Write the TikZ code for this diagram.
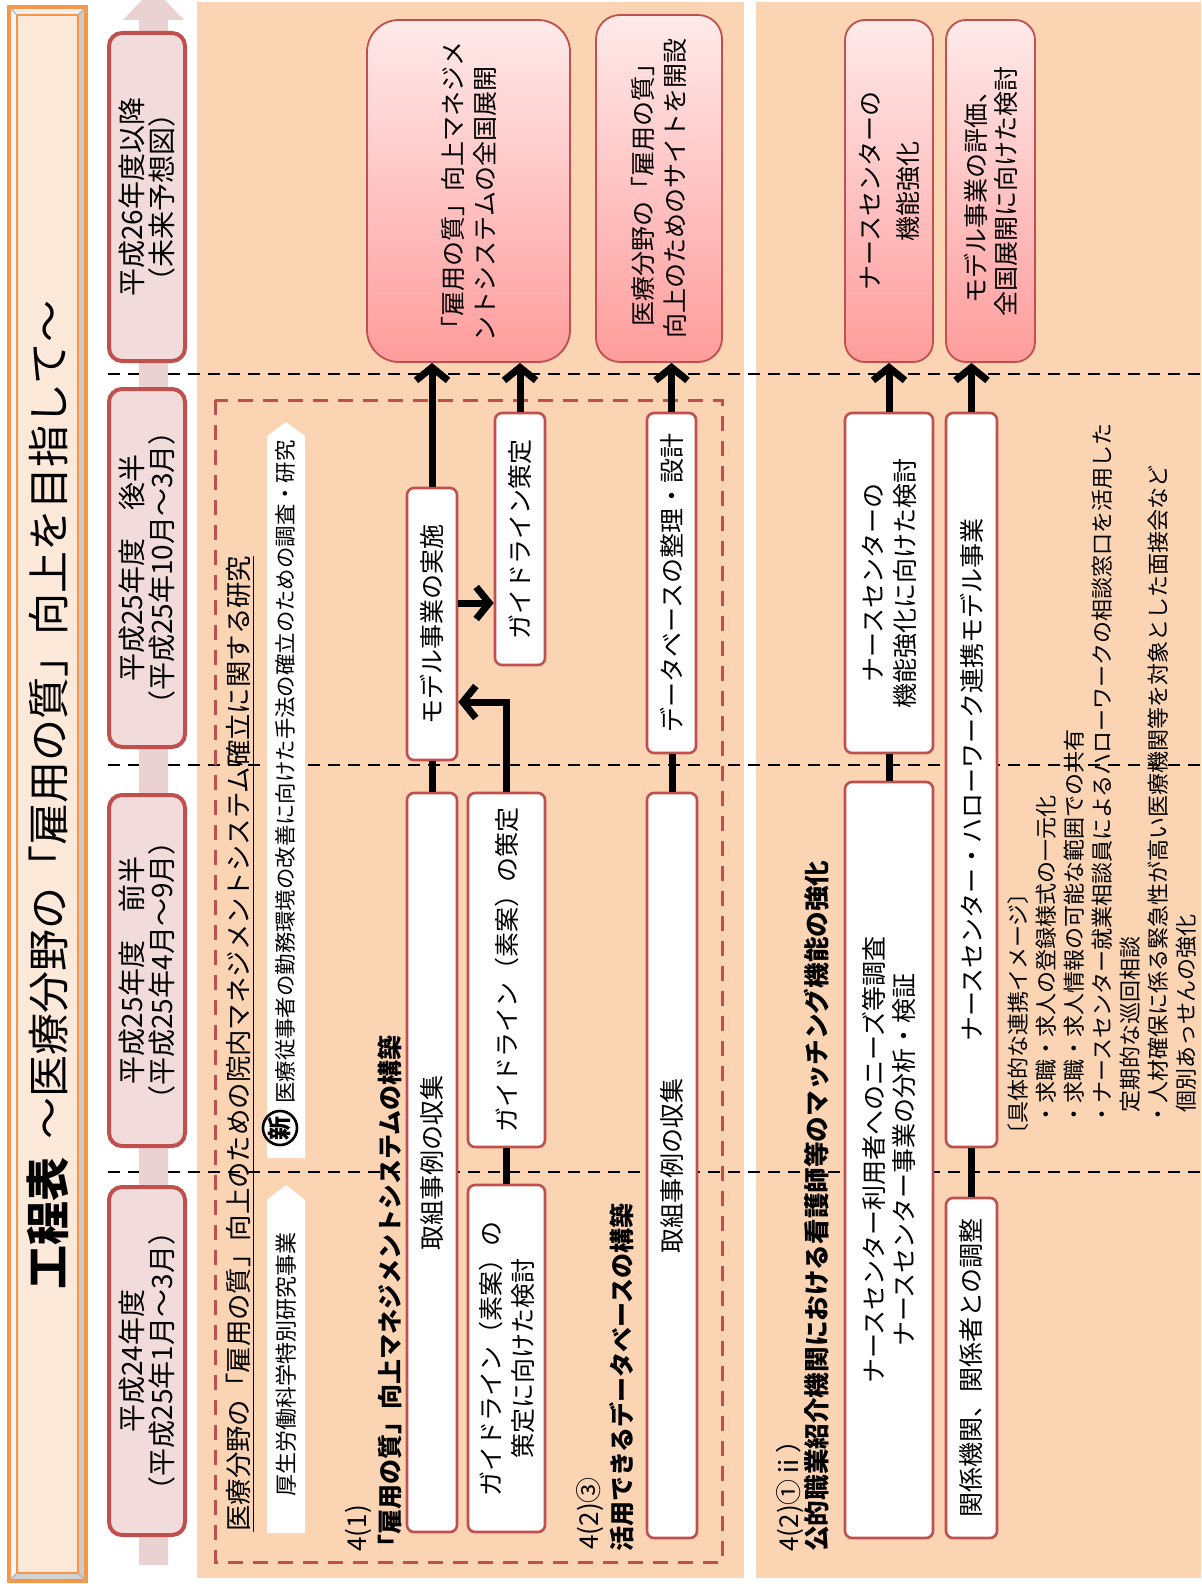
\documentclass[tikz,border=0pt]{standalone}
\usepackage{fontspec}
\setmainfont{Noto Sans CJK JP}
\usetikzlibrary{arrows.meta}
\definecolor{panel}{HTML}{FBD4B4}
\definecolor{dred}{HTML}{C0504D}
\definecolor{hdrfill}{HTML}{F2DCDB}
\definecolor{hdrarrow}{HTML}{EBD2D2}
\definecolor{orng}{HTML}{F79646}
\definecolor{titlefill}{HTML}{FDE9D9}
\definecolor{pinklight}{HTML}{FFEAEA}
\definecolor{pinkdark}{HTML}{FF9C9C}
\newcommand{\fsz}[2]{\fontsize{#1pt}{#2pt}\selectfont}
\tikzset{
  vb/.style 2 args={rotate=90, minimum width={(#1)*0.5pt}, minimum height={(#2)*0.5pt}, inner sep=0pt, align=center},
  wbox/.style={draw=dred, line width=1.3pt, fill=white, rounded corners=3.5pt, font=\fsz{12.5}{16}},
  pbox/.style={draw=dred, line width=0.9pt, top color=pinklight, bottom color=pinkdark, font=\fsz{12.5}{16}},
  hdr/.style={draw=dred, line width=2pt, fill=hdrfill, rounded corners=6.5pt, font=\fsz{14}{15}},
  rtxt/.style={rotate=90, inner sep=0pt},
  arr/.style={line width=3.5pt, -{Straight Barb[length=6.5pt,width=16pt,line width=3.5pt]}},
  conn/.style={line width=3.5pt},
  gridln/.style={line width=1.2pt, dash pattern=on 6pt off 4pt},
  reddash/.style={draw=dred, line width=1.5pt, dash pattern=on 7.5pt off 5pt},
}
\begin{document}
\begin{tikzpicture}[x=0.5pt,y=-0.5pt]
\useasboundingbox (0,0) rectangle (1201,1584);
% panels
\fill[panel] (197,2) rectangle (744,1578);
\fill[panel] (756,2) rectangle (1201,1578);
% title frame
\fill[gray!12] (9,7) -- (86,7) -- (78,15) -- (17,15) -- cycle;
\fill[gray!8] (9,7) -- (17,15) -- (17,1573) -- (9,1581) -- cycle;
\fill[gray!40] (86,7) -- (86,1581) -- (78,1573) -- (78,15) -- cycle;
\fill[gray!35] (9,1581) -- (86,1581) -- (78,1573) -- (17,1573) -- cycle;
\draw[orng, line width=1.6pt] (9,7) rectangle (86,1581);
\fill[titlefill] (17,15) rectangle (78,1573);
\draw[orng, line width=1.4pt] (17,15) rectangle (78,1573);
\draw[gray!60, line width=0.6pt] (9,7) -- (17,15) (86,7) -- (78,15) (9,1581) -- (17,1573) (86,1581) -- (78,1573);
\node[rtxt, anchor=west] (title) at (48,1290) {\fsz{22}{26}\bfseries 工程表\hspace{9pt}\mdseries\fsz{21}{25}〜医療分野の「雇用の質」向上を目指して〜};
% grid lines
\foreach \yy in {374,765,1172} \draw[gridln] (108,\yy) -- (1201,\yy);
% header arrow
\fill[hdrarrow] (139,1565) -- (168,1565) -- (168,20) -- (184,20) -- (153.5,-12) -- (123,20) -- (139,20) -- cycle;
% headers
\node[hdr, vb={328}{76}] (h26) at (147,197) {平成26年度以降\\（未来予想図）};
\node[hdr, vb={358}{76}] (h25b) at (147,568) {平成25年度　後半\\（平成25年10月〜3月）};
\node[hdr, vb={351}{76}] (h25a) at (147,970.5) {平成25年度　前半\\（平成25年4月〜9月）};
\node[hdr, vb={348}{76}] (h24) at (147,1361) {平成24年度\\（平成25年1月〜3月）};
% research group
\draw[reddash] (215,400) rectangle (722,1562);
\node[rtxt, anchor=west] (rtitle) at (240,1532) {\fsz{13.2}{15}\underline{医療分野の「雇用の質」向上のための院内マネジメントシステム確立に関する研究}};
\fill[white] (267,1533) -- (305,1533) -- (305,1200) -- (286,1185) -- (267,1200) -- cycle;
\node[rtxt] (band1) at (286,1364) {\fsz{11}{12}厚生労働科学特別研究事業};
\fill[white] (267,1158) -- (305,1158) -- (305,436) -- (286,422) -- (267,436) -- cycle;
\node[draw, circle, line width=1.3pt, inner sep=0pt, minimum size=17pt, fill=white, rotate=90, font=\fsz{12}{12}\bfseries] (shin) at (280,1128) {新};
\node[rtxt, anchor=west] (band2) at (285,1104) {\fsz{10.7}{12}医療従事者の勤務環境の改善に向けた手法の確立のための調査・研究};
% section headings
\node[rtxt, anchor=west] (s1a) at (358,1552) {\fsz{13}{14}4(1)};
\node[rtxt, anchor=west] (s1b) at (390,1560) {\fsz{12.5}{14}\bfseries「雇用の質」向上マネジメントシステムの構築};
\node[rtxt, anchor=west] (s2a) at (590,1550) {\fsz{13}{14}4(2)③};
\node[rtxt, anchor=west] (s2b) at (622,1552) {\fsz{12.5}{14}\bfseries 活用できるデータベースの構築};
\node[rtxt, anchor=west] (s3a) at (790,1552) {\fsz{13}{14}4(2)①ⅱ）};
\node[rtxt, anchor=west] (s3b) at (817,1552) {\fsz{12.8}{14}\bfseries 公的職業紹介機関における看護師等のマッチング機能の強化};
% boxes panel 1
\node[wbox, vb={272}{50}] (model) at (432,624) {モデル事業の実施};
\node[wbox, vb={252}{50}] (gl2) at (520,539) {ガイドライン策定};
\node[wbox, vb={340}{49}] (db) at (671.5,583) {データベースの整理・設計};
\node[wbox, vb={739}{50}] (torA) at (432,1162.5) {取組事例の収集};
\node[wbox, vb={354}{77}] (gl1) at (506.5,970) {ガイドライン（素案）の策定};
\node[wbox, vb={347}{77}] (gl0) at (506.5,1358.5) {ガイドライン（素案）の\\策定に向けた検討};
\node[wbox, vb={745}{50}] (torC) at (672,1165.5) {取組事例の収集};
\node[pbox, rounded corners=16pt, vb={342}{203}, align=left] (pinkA) at (468.5,191) {「雇用の質」向上マネジメ\\ントシステムの全国展開};
\node[pbox, rounded corners=12pt, vb={347}{126}] (pinkB) at (659,188.5) {医療分野の「雇用の質」\\向上のためのサイトを開設};
% boxes panel 2
\node[pbox, rounded corners=10pt, vb={342}{88}, font=\fsz{12.5}{19}] (nsp) at (889,191) {ナースセンターの\\機能強化};
\node[pbox, rounded corners=10pt, vb={342}{89}, font=\fsz{12.5}{15}] (hyoka) at (990.5,191) {モデル事業の評価、\\全国展開に向けた検討};
\node[wbox, vb={340}{88}] (nsk) at (889,583) {ナースセンターの\\機能強化に向けた検討};
\node[wbox, vb={734}{51}] (renkei) at (971.5,780) {ナースセンター・ハローワーク連携モデル事業};
\node[wbox, vb={756}{88}, font=\fsz{12.5}{15}] (needs) at (889,1160) {ナースセンター利用者へのニーズ等調査\\ナースセンター事業の分析・検証};
\node[wbox, vb={340}{51}] (kankei) at (971.5,1368) {関係機関、関係者との調整};
\node[rtxt, anchor=north west, align=left, font=\fsz{11}{14}] (notes) at (1007,1146) {〔具体的な連携イメージ〕\\\hspace*{0.9em}・求職・求人の登録様式の一元化\\\hspace*{0.9em}・求職・求人情報の可能な範囲での共有\\\hspace*{0.9em}・ナースセンター就業相談員によるハローワークの相談窓口を活用した\\\hspace*{1.5em}定期的な巡回相談\\\hspace*{0.9em}・人材確保に係る緊急性が高い医療機関等を対象とした面接会など\\\hspace*{1.5em}個別あっせんの強化};
% connectors
\draw[conn] (torA.east) -- (model.west);
\draw[conn] (gl0.east) -- (gl1.west);
\draw[conn] (torC.east) -- (torC.east |- db.west);
\draw[arr] (model.east) -- (model.east |- pinkA.west);
\draw[arr] (gl2.east) -- (gl2.east |- pinkA.west);
\draw[arr] (db.east) -- (db.east |- pinkB.west);
\draw[arr] (model.south |- 0,603) -- (gl2.north |- 0,603);
\draw[arr] (gl1.east) -- (gl1.east |- 0,702) -- (model.south |- 0,702);
\draw[conn] (needs.east) -- (nsk.west);
\draw[conn] (kankei.east) -- (renkei.west);
\draw[arr] (nsk.east) -- (nsk.east |- nsp.west);
\draw[arr] (renkei.east) -- (renkei.east |- hyoka.west);
\end{tikzpicture}
\end{document}
